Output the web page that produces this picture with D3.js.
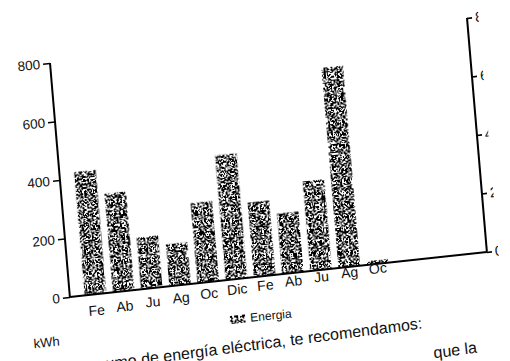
<!DOCTYPE html>
<html>
<head>
<meta charset="utf-8">
<script src="https://cdn.jsdelivr.net/npm/d3@7"></script>
<style>
  html, body { margin: 0; padding: 0; background: #fff; }
  svg { display: block; }
  text { font-family: "Liberation Sans", Arial, sans-serif; fill: #111; }
</style>
</head>
<body>
<script>
// Monthly electricity use (kWh) with its euro scale on the right
const months = ["Fe", "Ab", "Ju", "Ag", "Oc", "Dic", "Fe", "Ab", "Ju", "Ag", "Oc"];
const energy = [421, 337, 176, 143, 273, 426, 254, 206, 306, 684, 12];
const kwhTicks = [0, 200, 400, 600, 800];
const euroTicks = [0, 2, 4, 6, 8];
const unitLabel = "kWh";
const legendLabel = "Energia";
const noteLine1 = "consumo de energía eléctrica, te recomendamos:";
const noteLine2 = "que la";

const W = 510, H = 361;
const frameW = 417, frameH = 234;

const svg = d3.select("body").append("svg")
  .attr("width", W).attr("height", H);

const defs = svg.append("defs");

// grainy black/white stipple used for bars and legend swatch
const f = defs.append("filter").attr("id", "grain")
  .attr("x", 0).attr("y", 0).attr("width", 1).attr("height", 1)
  .attr("color-interpolation-filters", "sRGB");
f.append("feTurbulence").attr("type", "fractalNoise")
  .attr("baseFrequency", 0.55).attr("numOctaves", 2).attr("seed", 11)
  .attr("result", "noise");
f.append("feColorMatrix").attr("in", "noise").attr("type", "matrix")
  .attr("values", "0 0 0 0 0  0 0 0 0 0  0 0 0 0 0  1 0 0 0 0")
  .attr("result", "na");
const steps = 25, dark = 13;
f.append("feComponentTransfer").attr("in", "na").attr("result", "bw")
  .append("feFuncA").attr("type", "discrete")
  .attr("tableValues", d3.range(steps).map(i => i < dark ? 1 : 0).join(" "));
f.append("feComposite").attr("in", "bw").attr("in2", "SourceAlpha").attr("operator", "in");

// the sheet edge trims the right-hand labels
defs.append("clipPath").attr("id", "rightClip")
  .attr("clipPathUnits", "userSpaceOnUse")
  .append("rect").attr("x", -30).attr("y", -30).attr("width", 458.5).attr("height", frameH + 60);

// the whole sheet sits slightly tilted
const g = svg.append("g")
  .attr("transform", "matrix(1,-0.108,0.085,1,50,63)");

const x = d3.scaleBand()
  .domain(d3.range(months.length))
  .range([8, 325])
  .padding(0.24);

const y = d3.scaleLinear().domain([0, 800]).range([frameH, 0]);
const yR = d3.scaleLinear().domain([0, 8]).range([frameH, 0]);

// bars
g.append("g").attr("filter", "url(#grain)")
  .selectAll("rect").data(energy).join("rect")
  .attr("x", (d, i) => x(i))
  .attr("width", x.bandwidth())
  .attr("y", d => y(d))
  .attr("height", d => frameH - y(d))
  .attr("fill", "#000");

// left axis
const yAxis = g.append("g")
  .call(d3.axisLeft(y).tickValues(kwhTicks).tickSize(7).tickSizeOuter(0).tickPadding(3));
yAxis.select(".domain").remove();
yAxis.selectAll(".tick line").attr("stroke", "#000").attr("stroke-width", 1.6);
yAxis.selectAll("text").style("font-size", "13.5px").attr("fill", "#111");
g.append("line").attr("x1", 0).attr("x2", 0).attr("y1", 0).attr("y2", frameH)
  .attr("stroke", "#000").attr("stroke-width", 2);

// right axis
const rightClip = g.append("g").attr("clip-path", "url(#rightClip)");
const yAxisR = rightClip.append("g").attr("transform", `translate(${frameW},0)`)
  .call(d3.axisRight(yR).tickValues(euroTicks).tickSize(5).tickSizeOuter(0).tickPadding(3));
yAxisR.select(".domain").remove();
yAxisR.selectAll(".tick line").attr("stroke", "#000").attr("stroke-width", 1.6);
yAxisR.selectAll("text").style("font-size", "14px").attr("fill", "#111");
g.append("line").attr("x1", frameW).attr("x2", frameW).attr("y1", 0).attr("y2", frameH)
  .attr("stroke", "#000").attr("stroke-width", 2);

// baseline
g.append("line").attr("x1", 0).attr("x2", frameW).attr("y1", frameH).attr("y2", frameH)
  .attr("stroke", "#000").attr("stroke-width", 2);

// month labels
const xAxis = g.append("g").attr("transform", `translate(0,${frameH})`)
  .call(d3.axisBottom(x).tickSize(0).tickPadding(6).tickFormat(i => months[i]));
xAxis.select(".domain").remove();
xAxis.selectAll("text").style("font-size", "14px").attr("fill", "#111")
  .attr("y", i => 11 - 11.5 * i / (months.length - 1));

// unit label
g.append("text").attr("x", -27).attr("y", frameH + 47)
  .attr("text-anchor", "middle").style("font-size", "13px").text(unitLabel);

// legend
g.append("rect").attr("x", 157).attr("y", frameH + 36).attr("width", 15).attr("height", 8)
  .attr("fill", "#000").attr("filter", "url(#grain)");
g.append("text").attr("x", 177).attr("y", frameH + 44)
  .style("font-size", "12px").text(legendLabel);

// text of the letter under the chart
const note = g.append("g").attr("transform", `rotate(-1.2, 200, ${frameH + 70})`);
note.append("text").attr("x", -4).attr("y", frameH + 72)
  .style("font-size", "16px").text(noteLine1);
note.append("text").attr("x", 355).attr("y", frameH + 103)
  .style("font-size", "16px").text(noteLine2);
</script>
</body>
</html>
